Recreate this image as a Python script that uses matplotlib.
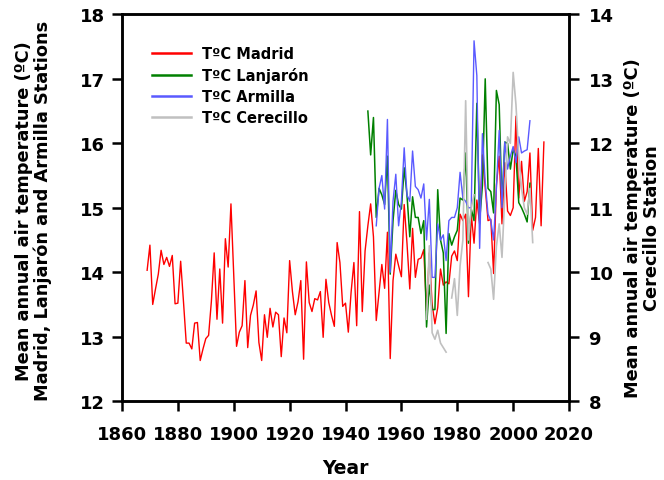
import numpy as np
import matplotlib
matplotlib.use("Agg")
import matplotlib.pyplot as plt

# annual mean air temperature (ºC)
madrid_years = list(range(1869, 2012))
madrid_temp = [
    14.03, 14.42, 13.50, 13.74, 13.97, 14.34, 14.12, 14.23, 14.09, 14.26,  # 1869-1878
    13.51, 13.52, 14.17, 13.55, 12.90, 12.90, 12.81, 13.21, 13.22, 12.63,  # 1879-1888
    12.81, 12.97, 13.02, 13.55, 14.30, 13.27, 14.05, 13.21, 14.52, 14.08,  # 1889-1898
    15.06, 13.95, 12.85, 13.07, 13.17, 13.87, 12.83, 13.33, 13.49, 13.71,  # 1899-1908
    12.91, 12.63, 13.34, 12.99, 13.44, 13.15, 13.38, 13.34, 12.69, 13.29,  # 1909-1918
    13.06, 14.18, 13.70, 13.34, 13.54, 13.87, 12.65, 14.16, 13.53, 13.39,  # 1919-1928
    13.59, 13.57, 13.70, 12.99, 13.89, 13.53, 13.33, 13.16, 14.46, 14.15,  # 1929-1938
    13.47, 13.52, 13.07, 13.69, 14.15, 13.17, 14.94, 13.39, 14.33, 14.72,  # 1939-1948
    15.06, 14.55, 13.25, 13.69, 14.12, 13.75, 14.62, 12.66, 13.87, 14.28,  # 1949-1958
    14.10, 13.93, 15.05, 14.45, 13.74, 14.68, 13.92, 14.20, 14.22, 14.35,  # 1959-1968
    13.40, 14.30, 13.50, 13.20, 13.45, 14.05, 13.80, 13.85, 13.82, 14.25,  # 1969-1978
    14.33, 14.18, 14.90, 14.80, 14.90, 13.62, 14.90, 14.45, 15.12, 14.75,  # 1979-1988
    15.82, 15.30, 14.80, 14.82, 13.98, 15.35, 15.80, 14.75, 15.70, 14.95,  # 1989-1998
    14.88, 15.00, 16.42, 15.15, 15.72, 15.10, 15.25, 15.85, 14.65, 14.85,  # 1999-2008
    15.92, 14.72, 16.02,                                                  # 2009-2011
]

lanjaron_years = list(range(1948, 2007))
lanjaron_temp = [
    16.50, 15.82, 16.40, 14.85, 15.30, 15.20, 15.05, 15.80, 13.97, 14.80,  # 1948-1957
    15.27, 15.05, 14.98, 15.62, 15.20, 14.55, 15.17, 14.85, 14.85, 14.60,  # 1958-1967
    14.80, 13.15, 13.80, 13.42, 13.42, 15.28, 14.50, 14.30, 13.05, 14.60,  # 1968-1977
    14.42, 14.55, 14.65, 15.15, 15.12, 15.85, 14.45, 14.98, 14.80, 16.62,  # 1978-1987
    14.80, 15.35, 17.00, 15.30, 15.25, 14.92, 16.82, 16.60, 15.05, 16.02,  # 1988-1997
    16.00, 15.60, 15.90, 15.80, 15.08, 15.00, 14.90, 14.78, 15.38,         # 1998-2006
]

armilla_years = list(range(1951, 2007))
armilla_temp = [
    14.72, 15.30, 15.50, 14.98, 16.37, 14.00, 15.10, 15.52, 14.72, 15.10,  # 1951-1960
    15.93, 15.20, 15.10, 15.88, 15.33, 15.28, 15.15, 15.37, 14.50, 15.13,  # 1961-1970
    13.92, 13.92, 14.75, 14.50, 14.58, 14.18, 14.80, 14.85, 14.85, 15.00,  # 1971-1980
    15.55, 15.15, 15.10, 15.00, 15.00, 17.59, 17.05, 14.37, 16.15, 15.40,  # 1981-1990
    14.90, 14.80, 14.50, 15.30, 16.20, 15.00, 16.02, 15.60, 15.80, 15.95,  # 1991-2000
    15.70, 16.10, 15.85, 15.88, 15.90, 16.35,                             # 2001-2006
]

# Cerecillo uses the right-hand axis; nan marks missing years
cerecillo_years = list(range(1969, 2008))
cerecillo_temp = [
    9.27, 10.41, 9.06, 8.96, 9.10, 8.90, 8.83, 8.76, np.nan, 9.60,        # 1969-1978
    9.90, 9.33, 10.10, 10.50, 12.66, 10.50, 11.00, 11.20, np.nan, np.nan,  # 1979-1988
    np.nan, np.nan, 10.15, 10.05, 9.58, 10.40, 10.75, 10.23, 11.20, 12.10,  # 1989-1998
    12.00, 13.10, 12.60, 11.80, 11.30, 11.00, 10.90, 11.30, 10.46,         # 1999-2007
]

plt.rcParams['font.family'] = ['DejaVu Sans']
plt.rcParams['font.weight'] = 'bold'

fig = plt.figure(figsize=(6.64, 4.81), dpi=100)
ax = fig.add_axes([0.1837, 0.164, 0.6733, 0.804])
ax2 = ax.twinx()

l1, = ax.plot(madrid_years, madrid_temp, color='#ff0000', lw=1.0, label='TºC Madrid')
l2, = ax.plot(lanjaron_years, lanjaron_temp, color='#008000', lw=1.1, label='TºC Lanjarón')
l3, = ax.plot(armilla_years, armilla_temp, color='#5a5aff', lw=1.0, label='TºC Armilla')
l4, = ax2.plot(cerecillo_years, cerecillo_temp, color='#c0c0c0', lw=1.2, label='TºC Cerecillo')

ax.set_xlim(1860, 2020)
ax.set_ylim(12, 18)
ax2.set_ylim(8, 14)
ax.set_xticks(range(1860, 2021, 20))
ax.set_yticks(range(12, 19))
ax2.set_yticks(range(8, 15))

for a in (ax, ax2):
    for s in a.spines.values():
        s.set_linewidth(1.8)
    a.tick_params(direction='out', length=7, width=1.8, labelsize=13)
ax.tick_params(axis='x', pad=10)
ax.tick_params(axis='y', pad=5)
ax2.tick_params(axis='y', pad=7)

ax.set_xlabel('Year', fontsize=13.5, fontweight='bold', labelpad=11)

# axis titles placed directly on the figure
fig.text(0.050, 0.561, 'Mean annual air temperature (ºC)\nMadrid, Lanjarón and Armilla Stations',
         rotation=90, ha='center', va='center', multialignment='center',
         fontsize=12.8, fontweight='bold', linespacing=1.05)
fig.text(0.968, 0.526, 'Mean annual air temperature (ºC)\nCerecillo Station',
         rotation=90, ha='center', va='center', multialignment='center',
         fontsize=12.8, fontweight='bold', linespacing=1.05)

leg = ax.legend(handles=[l1, l2, l3, l4], loc='upper left',
                bbox_to_anchor=(0.067, 0.918), frameon=False,
                fontsize=10.5, handlelength=2.7, handletextpad=0.7,
                labelspacing=0.42, borderpad=0, borderaxespad=0)
for h in leg.get_lines():
    h.set_linewidth(1.8)

fig.savefig('out.png', dpi=100)
